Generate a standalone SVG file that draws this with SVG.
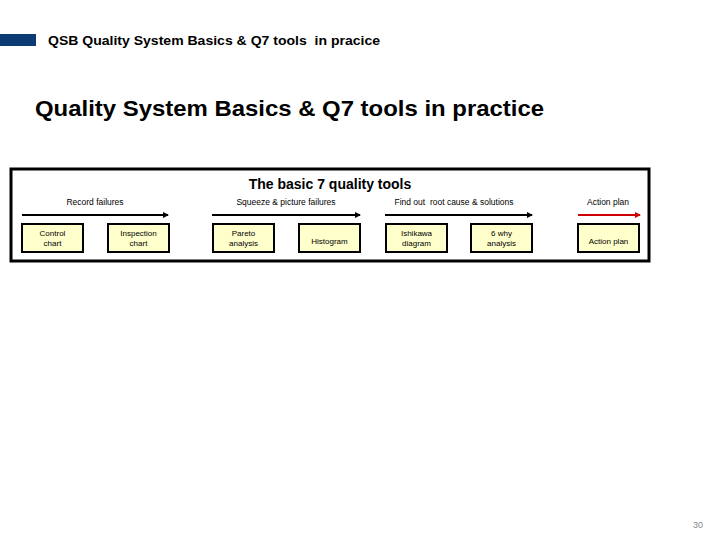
<svg xmlns="http://www.w3.org/2000/svg" width="720" height="540" viewBox="0 0 720 540">
<style>
.t{font-family:"Liberation Sans",Arial,sans-serif;fill:#000}
.box{fill:#FFFFCC;stroke:#000;stroke-width:2}
.bt{font-family:"Liberation Sans",Arial,sans-serif;font-size:8px;text-anchor:middle;fill:#000}
.lbl{font-family:"Liberation Sans",Arial,sans-serif;font-size:8.5px;text-anchor:middle;fill:#000}
.ar{stroke:#000;stroke-width:2;fill:none;marker-end:url(#ah)}
</style>
<defs>
<marker id="ah" markerWidth="6" markerHeight="6" refX="5" refY="3" orient="auto" markerUnits="userSpaceOnUse"><path d="M0,0 L6,3 L0,6 Z" fill="#000"/></marker>
<marker id="ahr" markerWidth="6" markerHeight="6" refX="5" refY="3" orient="auto" markerUnits="userSpaceOnUse"><path d="M0,0 L6,3 L0,6 Z" fill="#D00000"/></marker>
</defs>
<rect width="720" height="540" fill="#fff"/>
<g id="header">
<rect x="0" y="34" width="36" height="12" fill="#0B3A74"/>
<text class="t" x="48" y="45" font-size="13" font-weight="bold" xml:space="preserve" style="white-space:pre" textLength="332" lengthAdjust="spacingAndGlyphs">QSB Quality System Basics &amp; Q7 tools  in pracice</text>
</g>
<text class="t" x="35" y="116" font-size="22" font-weight="bold" textLength="509" lengthAdjust="spacingAndGlyphs">Quality System Basics &amp; Q7 tools in practice</text>
<g id="frame">
<rect x="11" y="169" width="638" height="92" fill="#fff" stroke="#000" stroke-width="3"/>
<text class="t" x="330" y="189" font-size="14" font-weight="bold" text-anchor="middle">The basic 7 quality tools</text>
</g>
<g id="labels">
<text class="lbl" x="95" y="205">Record failures</text>
<text class="lbl" x="286" y="205">Squeeze &amp; picture failures</text>
<text class="lbl" x="454" y="205" xml:space="preserve" style="white-space:pre">Find out  root cause &amp; solutions</text>
<text class="lbl" x="608" y="205">Action plan</text>
</g>
<g id="connectors">
<line class="ar" x1="22" y1="215" x2="168" y2="215"/>
<line class="ar" x1="212" y1="215" x2="360" y2="215"/>
<line class="ar" x1="385" y1="215" x2="532" y2="215"/>
<line x1="578" y1="215" x2="640" y2="215" stroke="#D00000" stroke-width="2" marker-end="url(#ahr)"/>
</g>
<g id="control-chart"><rect class="box" x="22" y="224" width="61" height="28"/><text class="bt" x="52.5" y="236">Control</text><text class="bt" x="52.5" y="246">chart</text></g>
<g id="inspection-chart"><rect class="box" x="108" y="224" width="61" height="28"/><text class="bt" x="138.5" y="236">Inspection</text><text class="bt" x="138.5" y="246">chart</text></g>
<g id="pareto"><rect class="box" x="213" y="224" width="61" height="28"/><text class="bt" x="243.5" y="236">Pareto</text><text class="bt" x="243.5" y="246">analysis</text></g>
<g id="histogram"><rect class="box" x="299" y="224" width="61" height="28"/><text class="bt" x="329.5" y="243.5">Histogram</text></g>
<g id="ishikawa"><rect class="box" x="386" y="224" width="61" height="28"/><text class="bt" x="416.5" y="236">Ishikawa</text><text class="bt" x="416.5" y="246">diagram</text></g>
<g id="six-why"><rect class="box" x="471" y="224" width="61" height="28"/><text class="bt" x="501.5" y="236">6 why</text><text class="bt" x="501.5" y="246">analysis</text></g>
<g id="action-plan"><rect class="box" x="578" y="224" width="61" height="28"/><text class="bt" x="608.5" y="243.5">Action plan</text></g>
<text class="t" x="703" y="528" font-size="9" text-anchor="end" style="fill:#888">30</text>
</svg>
